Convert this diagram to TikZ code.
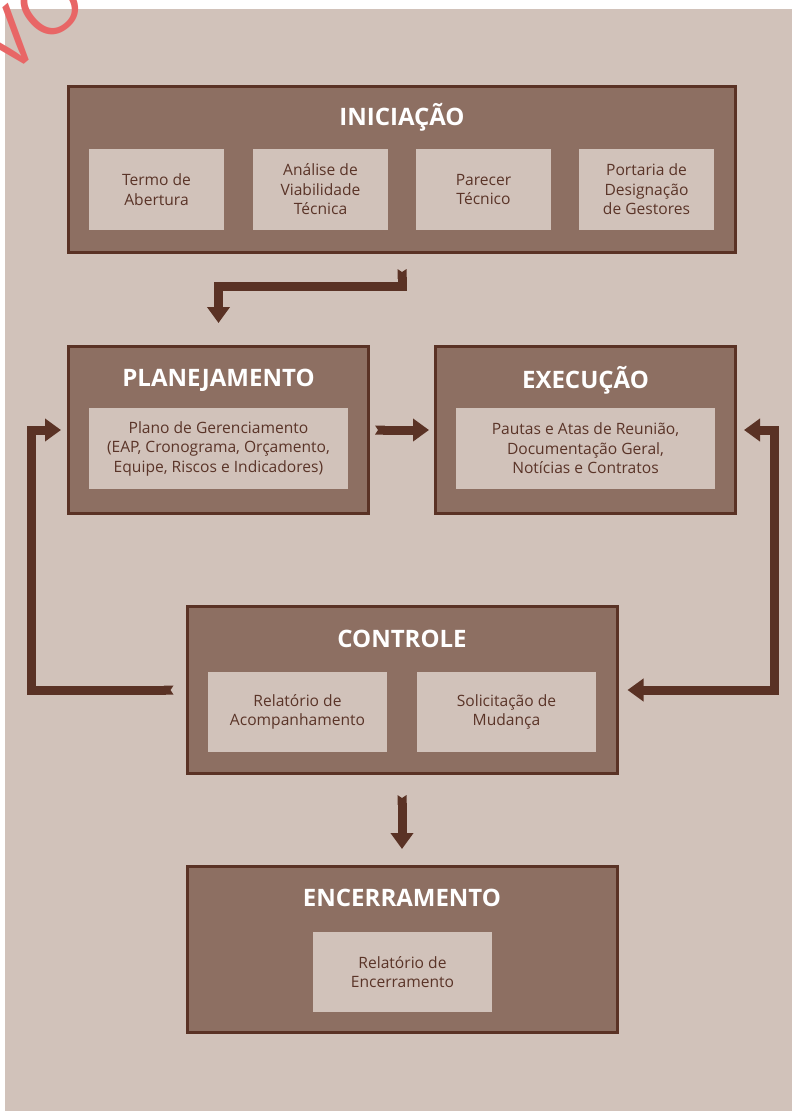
\documentclass[tikz,border=0pt]{standalone}
\usepackage{fontspec}
\setmainfont{Open Sans}
\usetikzlibrary{arrows.meta,calc}
\definecolor{bg}{HTML}{D1C2BA}
\definecolor{mid}{HTML}{8D6F62}
\definecolor{dark}{HTML}{5A3225}
\definecolor{txt}{HTML}{5A3428}
\definecolor{stamp}{HTML}{E86666}
\begin{document}
\begin{tikzpicture}[x=1pt,y=-1pt,
  phase/.style={draw=dark,line width=3pt,fill=mid,inner sep=0pt},
  ttl/.style={text=white,font=\bfseries\fontsize{24}{28}\selectfont,inner sep=0pt},
  item/.style={fill=bg,text=txt,align=center,inner sep=0pt,
    font=\fontsize{15.6}{19.5}\selectfont,minimum height=81pt},
  conn/.style={draw=dark,line width=9pt,
    {Triangle Cap[reversed,length=3pt]}-{Triangle[width=22pt,length=16pt]}},
  conn2/.style={draw=dark,line width=9pt,
    {Triangle[width=22pt,length=16pt]}-{Triangle[width=22pt,length=16pt]}}]
\useasboundingbox (0,0) rectangle (792,1111);
\fill[white] (0,0) rectangle (792,1111);
\fill[bg] (5,9) rectangle (792,1111);

% INICIACAO
\node[phase,minimum width=667pt,minimum height=166pt] (ini) at (402,169.5) {};
\node[ttl] (iniT) at (402,117) {INICIAÇÃO};
\node[item,minimum width=135pt] (i1) at (156.5,189.5) {Termo de\\Abertura};
\node[item,minimum width=135pt] (i2) at (320.5,189.5) {Análise de\\Viabilidade\\Técnica};
\node[item,minimum width=135pt] (i3) at (483.5,189.5) {Parecer\\Técnico};
\node[item,minimum width=135pt] (i4) at (646.5,189.5) {Portaria de\\Designação\\de Gestores};

% PLANEJAMENTO
\node[phase,minimum width=300pt,minimum height=167pt] (plan) at (218.5,430) {};
\node[ttl] (planT) at (218.5,380) {PLANEJAMENTO};
\node[item,minimum width=259pt] (p1) at (218.5,448.5) {Plano de Gerenciamento\\(EAP, Cronograma, Orçamento,\\Equipe, Riscos e Indicadores)};

% EXECUCAO
\node[phase,minimum width=300pt,minimum height=167pt] (exec) at (585.5,430) {};
\node[ttl] (execT) at (585.5,380) {EXECUÇÃO};
\node[item,minimum width=259pt] (e1) at (585.5,448.5) {Pautas e Atas de Reunião,\\Documentação Geral,\\Notícias e Contratos};

% CONTROLE
\node[phase,minimum width=430pt,minimum height=167pt] (ctrl) at (402,690) {};
\node[ttl] (ctrlT) at (402,639) {CONTROLE};
\node[item,minimum width=179pt,minimum height=80pt] (c1) at (297.5,712) {Relatório de\\Acompanhamento};
\node[item,minimum width=179pt,minimum height=80pt] (c2) at (506.5,712) {Solicitação de\\Mudança};

% ENCERRAMENTO
\node[phase,minimum width=430pt,minimum height=166pt] (enc) at (402,949.5) {};
\node[ttl] (encT) at (402,898) {ENCERRAMENTO};
\node[item,minimum width=179pt,minimum height=80pt] (n1) at (402.5,972) {Relatório de\\Encerramento};

% connectors
\coordinate (a1) at ([yshift=-15pt]ini.south);
\coordinate (a2) at ([yshift=-32.5pt]ini.south);
\draw[conn] (a1) -- (a2) -| ([yshift=22pt]plan.north);
\draw[conn] ([xshift=5pt]plan.east) -- ([xshift=-5pt]exec.west);
\coordinate (lft) at (31.5,430);
\draw[conn] ([xshift=-12pt]ctrl.west) -| (lft) -- ([xshift=-6pt]plan.west);
\coordinate (rgt) at (774.5,430);
\draw[conn2] ([xshift=7pt]exec.east) -- (rgt) |- ([xshift=9pt]ctrl.east);
\draw[conn] ([yshift=-20pt]ctrl.south) -- ([yshift=16pt]enc.north);

% stamp
\begin{scope}
\clip (0,0) rectangle (792,1111);
\node[text=stamp,rotate=40,anchor=base west,inner sep=0pt,
  font=\fontsize{80}{80}\selectfont] (stampT) at (8,78) {VO};
\end{scope}
\end{tikzpicture}
\end{document}
